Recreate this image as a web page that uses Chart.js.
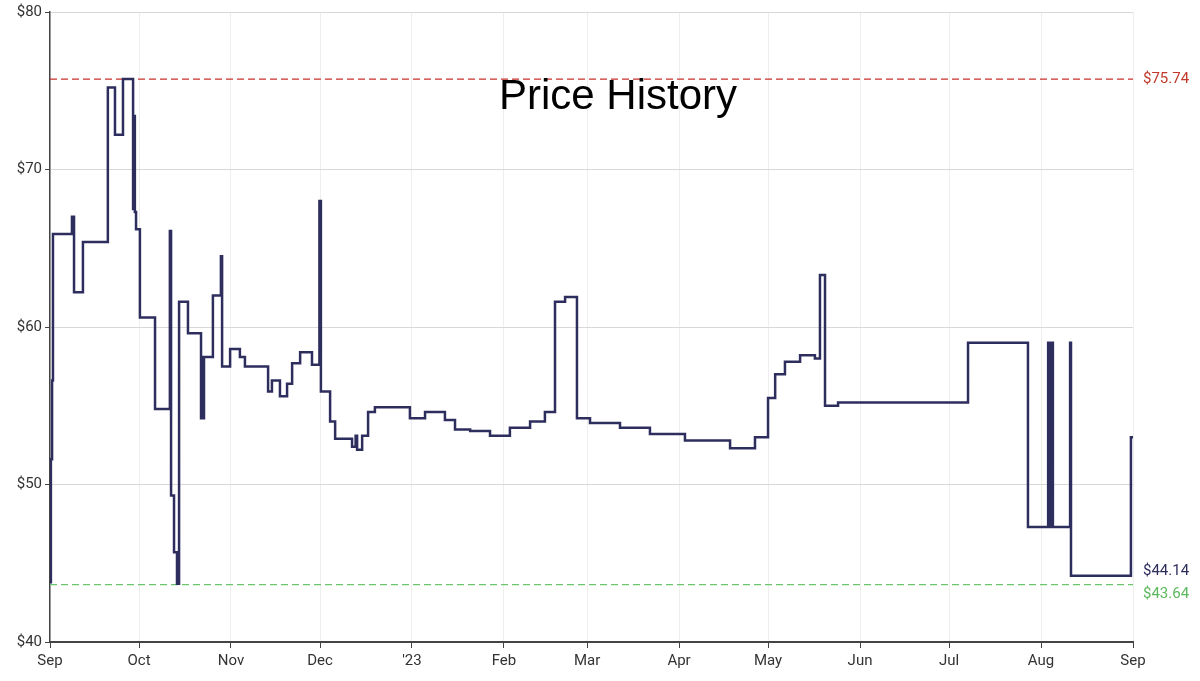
<!DOCTYPE html>
<html><head><meta charset="utf-8">
<script src="https://cdn.jsdelivr.net/npm/chart.js@4"></script>
<style>html,body{margin:0;padding:0;background:#fff}#w{width:1200px;height:681px}</style>
</head><body><div id="w"><canvas id="c"></canvas></div>
<script>
const monthLabels = ['Sep','Oct','Nov','Dec',"'23",'Feb','Mar','Apr','May','Jun','Jul','Aug','Sep'];
const monthDays = [0,30,61,91,122,153,181,212,242,273,303,334,365];
const yTicks = [40,50,60,70,80];
const days = [0,0.3,0.7,1,7.4,8.1,11.1,19.5,21.9,24.6,28,28.3,28.6,29,30.3,35.4,40.4,40.8,41.8,42.8,43.5,46.5,50.9,51.2,51.6,51.9,54.9,57.6,58,60.7,64,65.7,73.5,74.8,77.5,79.9,81.6,84.3,88.3,90.8,91.3,94.4,96.1,101.8,103,103.5,105.2,107.2,109.5,121.3,126.4,133.1,136.5,141.6,148.3,155,161.8,166.8,170.2,173.6,177.6,182,192.1,202.2,214,229.2,237.6,242,244.4,247.7,252.8,257.8,259.5,261.2,265.6,309.4,329.6,336.4,337,337.5,338,343.8,344.1,364,364.3,365];
const prices = [43.8,51.6,56.6,65.9,67,62.2,65.4,75.2,72.2,75.74,67.5,73.4,67.3,66.2,60.6,54.8,66.1,49.3,45.7,43.7,61.6,59.6,54.2,58.1,54.2,58.1,62,64.5,57.5,58.6,58.1,57.5,55.9,56.6,55.6,56.4,57.7,58.4,57.6,68,55.9,54,52.9,52.4,53.1,52.2,53.1,54.6,54.9,54.2,54.6,54.1,53.5,53.4,53.1,53.6,54,54.6,61.6,61.9,54.2,53.9,53.6,53.2,52.8,52.3,53,55.5,57,57.8,58.2,58,63.3,55,55.2,59,47.3,59,47.3,59,47.3,59,44.2,44.2,53,53];
const highPrice = 75.74, lowPrice = 43.64, currentPrice = 44.14;

const pts = days.map((d,i)=>({x:d,y:prices[i]}));
const labelsPlugin = {
  id:'labels',
  afterDraw(chart){
    const ctx=chart.ctx, y=chart.scales.y, a=chart.chartArea;
    ctx.save();
    ctx.font='42px "Liberation Sans", Arial, sans-serif';
    ctx.fillStyle='#000'; ctx.textAlign='center'; ctx.textBaseline='middle';
    ctx.fillText('Price History', 618, 97);
    ctx.font='15px Roboto, sans-serif'; ctx.textAlign='left';
    const xr=a.right+10;
    ctx.fillStyle='#c0392b'; ctx.fillText('$'+highPrice.toFixed(2), xr, y.getPixelForValue(highPrice));
    ctx.fillStyle='#2e2e5e'; ctx.fillText('$'+currentPrice.toFixed(2), xr, y.getPixelForValue(currentPrice)-6);
    ctx.fillStyle='#5cb85c'; ctx.fillText('$'+lowPrice.toFixed(2), xr, y.getPixelForValue(lowPrice)+10);
    ctx.restore();
  }
};
new Chart(document.getElementById('c'),{
  type:'line',
  data:{datasets:[
    {data:pts,stepped:'before',borderColor:'#2e2e5e',borderWidth:2.5,pointRadius:0,fill:false},
    {data:[{x:0,y:highPrice},{x:365,y:highPrice}],borderColor:'#c9302c',borderDash:[7,4],borderWidth:1.2,pointRadius:0},
    {data:[{x:0,y:lowPrice},{x:365,y:lowPrice}],borderColor:'#6cc46c',borderDash:[7,4],borderWidth:1.2,pointRadius:0}
  ]},
  options:{
    responsive:true,maintainAspectRatio:false,animation:false,
    layout:{padding:{top:10,right:67,left:0,bottom:0}},
    plugins:{legend:{display:false},tooltip:{enabled:false}},
    scales:{
      x:{type:'linear',min:0,max:365,
        afterBuildTicks(s){s.ticks=monthDays.map(v=>({value:v}));},
        afterFit(s){s.height=39;},
        ticks:{autoSkip:false,maxRotation:0,color:'#333',font:{family:'Roboto',size:15},padding:4,
          callback:(v)=>{const i=monthDays.indexOf(v);return i>=0?monthLabels[i]:'';}},
        grid:{color:'#eeeeee',tickColor:'#444',tickLength:6},
        border:{color:'#444',width:2}},
      y:{min:40,max:80,
        afterBuildTicks(s){s.ticks=yTicks.map(v=>({value:v}));},
        afterFit(s){s.width=50;},
        ticks:{color:'#333',font:{family:'Roboto',size:15},padding:3,callback:v=>'$'+v},
        grid:{color:'#d8d8d8',tickColor:'#444',tickLength:5},
        border:{color:'#444',width:1.5}}
    }
  },
  plugins:[labelsPlugin]
});
</script></body></html>
